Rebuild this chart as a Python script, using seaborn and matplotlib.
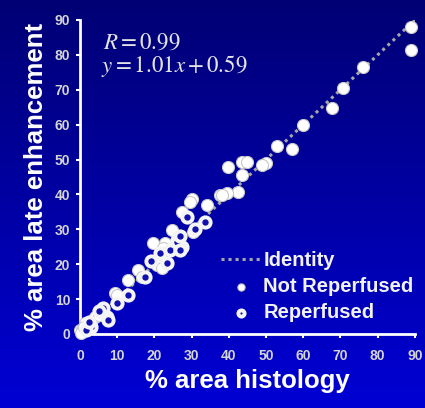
import matplotlib
matplotlib.use("Agg")
import matplotlib.pyplot as plt
import seaborn as sns
import pandas as pd
import numpy as np

# values
not_reperfused_x = [89, 89, 76, 70.7, 67.7, 60, 53, 57, 50, 49, 43.5, 45, 39.8, 43.5, 42.5,
                    39.5, 37.6, 30, 29.6, 34, 27.4, 24.7, 30.4, 19.6, 22.8, 22.3, 20.7, 22,
                    15.6, 12.9, 16.7, 9.4, 10, 4, 2.2, 0, 0.5, 0.2, 1.3, 1, 3, 2, 5, 38.2]
not_reperfused_y = [88, 81.4, 76.5, 70.5, 64.8, 60, 54, 53, 49, 48.4, 49.3, 49.3, 47.9, 45.5, 40.7,
                    40.4, 39.8, 38.7, 37.8, 37, 35, 29.8, 29.2, 26, 26, 24.6, 19.8, 18.9,
                    18.3, 15.5, 16.3, 11.7, 11.2, 4.9, 3.2, 1.1, 1.1, 0.3, 3.2, 2, 2.5, 1, 5.5, 39.8]

reperfused_x = [28.8, 33.6, 26, 27.4, 26, 21.5, 24.2, 26.9, 23.4, 17.5, 12.9, 6.2, 7.3, 7.5,
                3, 1.5, 2.5, 27, 31, 19, 10, 5]
reperfused_y = [33.5, 32, 27, 25, 26.4, 23.2, 24, 24, 20.3, 16.3, 11.2, 7.4, 4.9, 4,
                2, 1, 3.5, 28, 30, 21, 9, 6.5]

identity = [0, 90]
ticks = list(range(0, 91, 10))

df_nr = pd.DataFrame({"x": not_reperfused_x, "y": not_reperfused_y})
df_r = pd.DataFrame({"x": reperfused_x, "y": reperfused_y})
df_id = pd.DataFrame({"x": identity, "y": identity})

plt.rcParams["font.family"] = ["Liberation Sans", "DejaVu Sans"]
plt.rcParams["mathtext.fontset"] = "stix"

fig = plt.figure(figsize=(4.25, 4.08), dpi=100)

# blue gradient background
bg = fig.add_axes([0, 0, 1, 1], zorder=0)
grad = np.linspace(0, 1, 256).reshape(-1, 1)
cols = np.zeros((256, 1, 3))
cols[..., 2] = (0x74 + (0xd4 - 0x74) * grad) / 255
bg.imshow(cols, aspect="auto", extent=[0, 1, 0, 1])
bg.axis("off")

ax = fig.add_axes([0.1882, 0.1814, 0.788, 0.7696], zorder=1)
ax.patch.set_alpha(0)

sns.lineplot(data=df_id, x="x", y="y", ax=ax, color="#a8a8a8", lw=2.2,
             linestyle=(0, (1, 1.3)), label="Identity", zorder=2)
sns.scatterplot(data=df_nr, x="x", y="y", ax=ax, s=75, color="white",
                edgecolor="#c8c8c8", linewidth=0.8, label="Not Reperfused",
                clip_on=False, zorder=3)
sns.scatterplot(data=df_r, x="x", y="y", ax=ax, s=55, facecolor="#1010b0",
                edgecolor="#f4f4f4", linewidth=2.8, label="Reperfused",
                clip_on=False, zorder=3)

ax.set_xlim(0, 90)
ax.set_ylim(0, 90)
ax.set_xticks(ticks)
ax.set_yticks(ticks)
for side in ["top", "right"]:
    ax.spines[side].set_visible(False)
for side in ["left", "bottom"]:
    ax.spines[side].set_color("white")
    ax.spines[side].set_linewidth(2)
ax.tick_params(axis="x", colors="white", length=3, width=1.5, pad=8, labelsize=10,
               labelcolor="#d4d4d4")
ax.tick_params(axis="y", colors="white", length=3, width=1.5, pad=4, labelsize=10,
               labelcolor="#d4d4d4")
for lab in ax.get_xticklabels() + ax.get_yticklabels():
    lab.set_fontweight("bold")

ax.set_xlabel("% area histology", color="white", fontsize=18.5, fontweight="bold", labelpad=4)
ax.set_ylabel("% area late enhancement", color="white", fontsize=18.5, fontweight="bold",
              labelpad=5)

ax.text(0.07, 0.93, r"$R = 0.99$", transform=ax.transAxes, fontsize=16.5, color="#e4e4e4",
        va="center", ha="left")
ax.text(0.063, 0.855, r"$y = 1.01x + 0.59$", transform=ax.transAxes, fontsize=16.5,
        color="#e4e4e4", va="center", ha="left")

leg = ax.legend(loc="upper left", bbox_to_anchor=(211 / 425, 1 - 241 / 408),
                bbox_transform=fig.transFigure, frameon=False, fontsize=14.5,
                handlelength=2.0, handletextpad=0.1, labelspacing=0.35,
                markerscale=0.6, borderpad=0)
for t in leg.get_texts():
    t.set_color("#f2f2f2")
    t.set_fontweight("bold")

fig.savefig("out.png", dpi=100)
